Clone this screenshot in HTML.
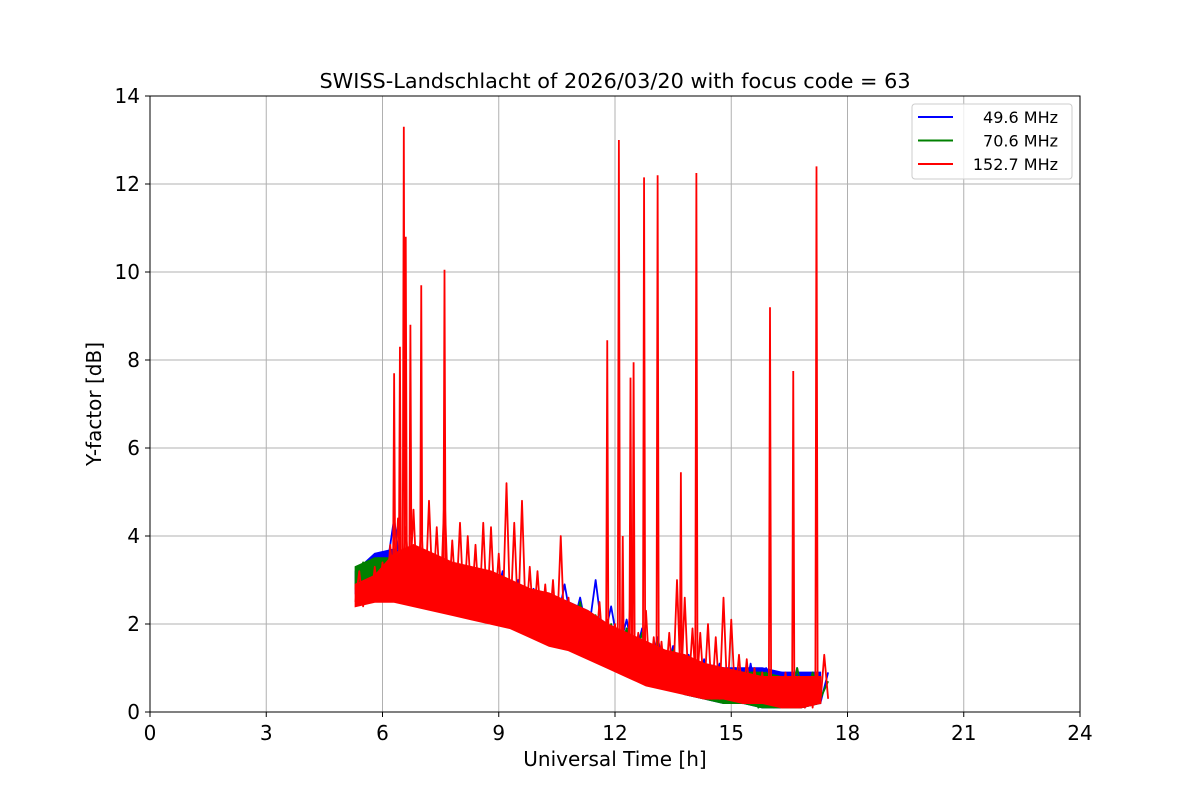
<!DOCTYPE html>
<html><head><meta charset="utf-8"><style>
body{margin:0;background:#fff;font-family:"Liberation Sans","DejaVu Sans",sans-serif}
</style></head><body>
<svg id="chart" width="1200" height="800" xmlns="http://www.w3.org/2000/svg" font-family="DejaVu Sans, Liberation Sans, sans-serif"></svg>
<script>
const xTicks=[0,3,6,9,12,15,18,21,24];
const yTicks=[0,2,4,6,8,10,12,14];
const seriesNames=["49.6 MHz","70.6 MHz","152.7 MHz"];
const blueStart=5.3, blueStep=0.2;
const blueVals=[2.8,3.3,3.0,3.6,3.2,4.4,3.0,3.6,2.9,3.5,
2.8,3.3,2.7,3.2,2.6,3.1,2.6,3.0,2.5,3.2,
2.3,3.0,2.3,2.8,2.1,2.6,2.0,2.9,1.9,2.6,
1.7,3.0,1.6,2.4,1.4,2.1,1.2,1.9,1.0,1.7,
0.8,1.5,0.7,1.3,0.6,1.2,0.5,1.1,0.3,1.0,
0.2,1.1,0.1,1.0,0.1,0.9,0.1,1.0,0.1,0.9,
0.2,0.9];
const greenStart=5.3, greenStep=0.2;
const greenVals=[2.9,3.4,3.1,3.5,3.0,3.5,2.9,3.4,2.8,3.3,
2.7,3.2,2.6,3.1,2.5,3.0,2.5,2.9,2.4,3.0,
2.2,2.9,2.2,2.7,2.0,2.6,1.9,2.5,1.8,2.5,
1.6,2.2,1.5,2.0,1.3,1.9,1.1,1.8,0.9,1.6,
0.7,1.4,0.6,1.2,0.5,1.1,0.4,1.0,0.3,0.9,
0.2,0.8,0.1,0.9,0.1,0.8,0.1,1.0,0.2,0.9,
0.3,0.7];
const redStart=5.3, redStep=0.1;
const redVals=[2.5,3.2,2.4,3.0,2.5,3.3,2.6,3.4,
2.6,3.8,2.7,4.4,2.6,4.2,2.8,4.6,2.6,4.3,
2.5,4.8,2.6,4.2,2.5,5.0,2.4,3.9,2.5,4.3,
2.3,4.0,2.4,3.8,2.3,4.3,2.2,4.2,2.3,3.6,
2.1,5.2,2.1,4.3,2.1,4.8,2.0,3.3,2.0,3.2,
1.9,2.9,1.8,3.0,1.7,4.0,1.6,2.6,1.5,2.4,
1.5,2.3,1.4,2.2,1.4,2.5,1.3,2.1,1.2,2.0,
1.1,1.9,1.0,2.6,0.9,1.8,0.8,2.3,0.7,1.7,
0.7,1.6,0.6,1.8,0.6,3.0,0.5,2.6,0.5,1.9,
0.4,1.8,0.4,2.0,0.3,1.7,0.3,2.6,0.3,2.1,
0.3,1.3,0.2,1.2,0.2,1.0,0.2,0.9,0.2,0.8,
0.2,0.8,0.1,0.9,0.1,0.8,0.1,0.7,0.1,0.8,
0.1,0.9,0.2,1.3,0.3];
// envelopes (band fill), step 0.5 h from 5.3
const envStart=5.3, envStep=0.5;
const blueLow=[2.7,2.9,2.9,2.7,2.6,2.5,2.4,2.2,2.1,2.0,1.8,1.6,1.4,1.2,1.0,0.8,0.6,0.4,0.3,0.2,0.2,0.1,0.1,0.1,0.2];
const blueHigh=[3.2,3.6,3.7,3.5,3.3,3.2,3.1,3.0,2.9,2.7,2.6,2.5,2.3,2.0,1.7,1.5,1.3,1.2,1.1,1.0,1.0,1.0,0.9,0.9,0.9];
const greenLow=[2.8,2.9,2.8,2.7,2.6,2.5,2.4,2.2,2.1,2.0,1.8,1.6,1.4,1.2,1.0,0.8,0.6,0.4,0.3,0.2,0.2,0.1,0.1,0.1,0.2];
const greenHigh=[3.3,3.5,3.5,3.4,3.2,3.1,3.0,2.9,2.8,2.6,2.5,2.4,2.2,1.9,1.6,1.4,1.2,1.1,1.0,0.9,0.9,0.9,0.8,0.8,0.8];
const redLow=[2.4,2.5,2.5,2.4,2.3,2.2,2.1,2.0,1.9,1.7,1.5,1.4,1.2,1.0,0.8,0.6,0.5,0.4,0.3,0.3,0.2,0.2,0.1,0.1,0.2];
const redHigh=[2.9,3.1,3.6,3.8,3.6,3.4,3.3,3.2,3.0,2.8,2.7,2.5,2.3,2.0,1.8,1.6,1.4,1.3,1.1,1.0,0.9,0.8,0.8,0.8,0.8];
const spikeTimes=[6.3,6.45,6.55,6.6,6.72,7.0,7.6,11.8,12.1,12.2,12.4,12.48,12.75,13.1,13.7,14.1,16.0,16.6,17.2];
const spikePeaks=[7.7,8.3,13.3,10.8,8.8,9.7,10.05,8.45,13.0,4.0,7.6,7.95,12.15,12.2,5.45,12.25,9.2,7.75,12.4];
const spikeBases=[2.7,2.7,2.7,2.7,2.7,2.6,2.5,1.4,1.1,1.0,0.9,0.9,0.8,0.7,0.5,0.4,0.2,0.1,0.2];

const L=150,R=1080,T=96,B=712;
const X=t=>L+(t/24)*(R-L);
const Y=v=>B-(v/14)*(B-T);
const svg=document.getElementById('chart');
const NS="http://www.w3.org/2000/svg";
function mk(tag,attrs,parent){const e=document.createElementNS(NS,tag);for(const k in attrs)e.setAttribute(k,attrs[k]);(parent||svg).appendChild(e);return e;}

const grid=mk('g',{});


xTicks.forEach(t=>{mk('line',{x1:X(t),x2:X(t),y1:T,y2:B,stroke:'#b0b0b0','stroke-width':1},grid);});
yTicks.forEach(v=>{mk('line',{x1:L,x2:R,y1:Y(v),y2:Y(v),stroke:'#b0b0b0','stroke-width':1},grid);});

const clip=mk('clipPath',{id:'pc'});mk('rect',{x:L,y:T,width:R-L,height:B-T},clip);
const plot=mk('g',{'clip-path':'url(#pc)'});
function band(low,high,color,name){
  const up=high.map((v,i)=>X(envStart+i*envStep).toFixed(2)+','+Y(v).toFixed(2));
  const dn=low.map((v,i)=>X(envStart+i*envStep).toFixed(2)+','+Y(v).toFixed(2)).reverse();
  const p=mk('polygon',{points:up.concat(dn).join(' '),fill:color,stroke:color,'stroke-width':1.5},plot);
  
  
}
function series(start,step,vals,color,name){
  const pts=vals.map((v,i)=>X(start+i*step).toFixed(2)+','+Y(v).toFixed(2)).join(' ');
  const p=mk('polyline',{points:pts,fill:'none',stroke:color,'stroke-width':1.8,'stroke-linejoin':'round'},plot);
  
  
}
band(blueLow,blueHigh,'#0000ff','band-49-6-mhz');
series(blueStart,blueStep,blueVals,'#0000ff','series-49-6-mhz');
band(greenLow,greenHigh,'#008000','band-70-6-mhz');
series(greenStart,greenStep,greenVals,'#008000','series-70-6-mhz');
band(redLow,redHigh,'#ff0000','band-152-7-mhz');
series(redStart,redStep,redVals,'#ff0000','series-152-7-mhz');
spikeTimes.forEach((t,i)=>{
  const p=mk('polyline',{points:`${X(t-0.03)},${Y(spikeBases[i])} ${X(t)},${Y(spikePeaks[i])} ${X(t+0.03)},${Y(spikeBases[i])}`,fill:'none',stroke:'#ff0000','stroke-width':1.8},plot);
  
  
});

const frame=mk('rect',{x:L,y:T,width:R-L,height:B-T,fill:'none',stroke:'#000','stroke-width':1});



const xa=mk('g',{});


xTicks.forEach(t=>{mk('line',{x1:X(t),x2:X(t),y1:B,y2:B+5,stroke:'#000'},xa);
  const tx=mk('text',{x:X(t),y:B+28,'text-anchor':'middle','font-size':20},xa);tx.textContent=t;});
const ya=mk('g',{});


yTicks.forEach(v=>{mk('line',{x1:L-5,x2:L,y1:Y(v),y2:Y(v),stroke:'#000'},ya);
  const tx=mk('text',{x:L-10,y:Y(v)+7,'text-anchor':'end','font-size':20},ya);tx.textContent=v;});

const title=mk('text',{x:615,y:88,'text-anchor':'middle','font-size':20.8});
title.textContent='SWISS-Landschlacht of 2026/03/20 with focus code = 63';


const xl=mk('text',{x:615,y:766,'text-anchor':'middle','font-size':20});
xl.textContent='Universal Time [h]';


const yl=mk('text',{x:0,y:0,'text-anchor':'middle','font-size':20,transform:'translate(101,404) rotate(-90)'});
yl.textContent='Y-factor [dB]';



const lg=mk('g',{});


mk('rect',{x:912,y:104,width:160,height:75,rx:3,fill:'#fff','fill-opacity':0.8,stroke:'#ccc'},lg);
const colors=['#0000ff','#008000','#ff0000'];
seriesNames.forEach((n,i)=>{
  const y=117+i*23.5;
  mk('line',{x1:918,x2:953,y1:y,y2:y,stroke:colors[i],'stroke-width':2},lg);
  const tx=mk('text',{x:1058,y:y+6,'text-anchor':'end','font-size':16},lg);tx.textContent=n;
  
  
});
</script>
</body></html>
